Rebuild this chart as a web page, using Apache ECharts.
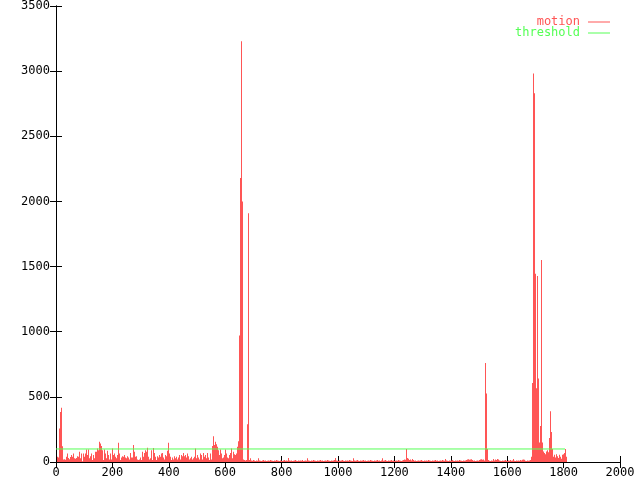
<!DOCTYPE html>
<html><head><meta charset="utf-8">
<script src="https://cdn.jsdelivr.net/npm/echarts@6/dist/echarts.min.js"></script>
<style>html,body{margin:0;padding:0;background:#fff}#c{width:640px;height:480px}</style>
</head><body><div id="c"></div>
<script>
// motion values, one sample per ~3.55 frames
const motionStart = [40,35,257,384,417,120,20,22,18,40,65,30,22,38,53,40,65,28,25,30,45,40,78,28,65,5,65,40,65,96,53,96,28,45,65,15,53,28,78,78,104,91,155,142,122,91,15,96,65,28,86,53,20,65,20,104,53,65,40,28,53,147,65,15,35,45,40,53,35,28,45,35,20,70,35,35,130,78,40,45,20,15,20,35,15,78,40,70,91,78,109,40,20,28,91,15,107,70,40,15,45,35,53,40,65,70,35,20,53,45,86,147,65,40,15,35,20,45,28,40,20,35,53,20,53,45,70,45,53,35,65,45,20,28,40,20,28,40,104,28,53,35,20,65,53,20,70,40,53,28,70,35,15,65,20,122,198,130,155,137,117,91,53,96,65,28,35,53,96,65,35,28,53,70,104,28,78,60,53,65,117];
const motionSpike1 = [160,970,2180,3230,2000,20,15,12,15,290,1910,15];
const motionQuiet1 = [28,12,10,15,12,8,12,10,28,12,
10,8,12,15,10,12,8,10,12,10,
15,12,10,8,12,10,15,12,10,8,
12,10,8,12,15,10,12,10,30,12,
10,12,8,10,12,15,10,8,12,10,
12,10,15,8,10,12,10,28,12,10,
8,12,10,15,12,10,8,12,10,12,
15,10,12,8,10,12,10,15,12,10,
8,12,10,12,15,30,12,10,8,12,
10,12,15,10,8,12,10,12,10,15,
12,10,8,28,12,10,12,15,10,8,
12,10,12,15,10,12,8,10,12,10,
15,12,10,8,12,10,12,15,10,12,
8,12,28,10,12,15,10,8,12,10,
12,15,10,12,8,10,12,10,15,12,
10,8,12,15,20,18,100,30,25,15,
20,12,23,15,10,12,8,10,12,10,
12,15,10,8,12,10,12,10,15,12,
10,8,12,10,12,15,10,12,8,10,
12,10,15,12,10,23,12,10,8,12,
10,12,15,10,8,12,10,12,10,15,
12,10,8,12,10,12,15,20,22,18,
20,22,15,10,12,8,10,12,10,15,
20,22,18,20,12];
const motionSpike2 = [760,525,100];
const motionQuiet2 = [15,10,8,12,10,23,12,20,15,23,
20,12,10,8,12,10,12,15,10,8,
12,10,15,10,12,23,10,8,12,10,
12,10,15,12,18,20,18,10,8,12,
10,12,15,40];
const motionSpike3 = [607,2982,2830,1445,567,1427,640,150,277,1550,150,80,70,60,80,90,75,185,390,230,100,40,55,35,60,45,30,55,40,25,55,60,70,100,40];
const thresholdValue = 100;
const thresholdRange = [0, 1805];
const FRAMES_PER_SAMPLE = 2000 / 564;
const xTicks = [0, 2000, 200];
const yTicks = [0, 3500, 500];

const motion = [].concat(motionStart, motionSpike1, motionQuiet1, motionSpike2, motionQuiet2, motionSpike3);
const motionData = motion.map((v, i) => [(i + 1.5) * FRAMES_PER_SAMPLE, v]);
const thresholdData = thresholdRange.map(x => [x, thresholdValue]);

const RED = '#ff5555', GREEN = '#55ff55';
const font = 'DejaVu Sans Mono';
const chart = echarts.init(document.getElementById('c'), null, {renderer: 'canvas'});
const baseAxis = {
  axisLine: {show: true, lineStyle: {color: '#000', width: 1}},
  axisTick: {show: true, inside: true, length: 6, lineStyle: {color: '#000'}},
  splitLine: {show: false},
};
const plain = v => String(v);
chart.setOption({
  animation: false,
  backgroundColor: '#fff',
  grid: {left: 56, top: 5, width: 564, height: 457},
  legend: {
    orient: 'vertical', right: 30, top: 16, padding: 0, align: 'right', icon: 'rect',
    itemWidth: 22, itemHeight: 1, itemGap: -1,
    textStyle: {fontFamily: font, fontSize: 12, lineHeight: 12, padding: [0, 3, 0, 0]},
    data: [
      {name: 'motion', textStyle: {color: RED}, itemStyle: {color: RED}},
      {name: 'threshold', textStyle: {color: GREEN}, itemStyle: {color: GREEN}}
    ]
  },
  xAxis: [
    Object.assign({}, baseAxis, {type: 'value', min: xTicks[0], max: xTicks[1], interval: xTicks[2], position: 'bottom',
      axisLabel: {color: '#000', fontFamily: font, fontSize: 12, margin: 5, formatter: plain}}),
    Object.assign({}, baseAxis, {type: 'value', min: xTicks[0], max: xTicks[1], interval: xTicks[2], position: 'top',
      axisLabel: {show: false}})
  ],
  yAxis: [
    Object.assign({}, baseAxis, {type: 'value', min: yTicks[0], max: yTicks[1], interval: yTicks[2], position: 'left',
      axisLabel: {color: '#000', fontFamily: font, fontSize: 12, margin: 6, formatter: plain}}),
    Object.assign({}, baseAxis, {type: 'value', min: yTicks[0], max: yTicks[1], interval: yTicks[2], position: 'right',
      axisLabel: {show: false}})
  ],
  series: [
    {name: 'motion', type: 'custom', xAxisIndex: 0, yAxisIndex: 0, data: motionData,
      itemStyle: {color: RED}, z: 2, clip: true,
      renderItem: function (params, api) {
        const top = api.coord([api.value(0), api.value(1)]);
        const base = api.coord([api.value(0), 0]);
        const x0 = Math.floor(top[0]);
        return {type: 'rect', shape: {x: x0, y: top[1], width: 1, height: base[1] - top[1]},
          style: {fill: RED}};
      }},
    {name: 'threshold', type: 'line', xAxisIndex: 0, yAxisIndex: 0, data: thresholdData, symbol: 'none',
      lineStyle: {color: GREEN, width: 1}, itemStyle: {color: GREEN}, z: 3}
  ]
});
</script></body></html>
